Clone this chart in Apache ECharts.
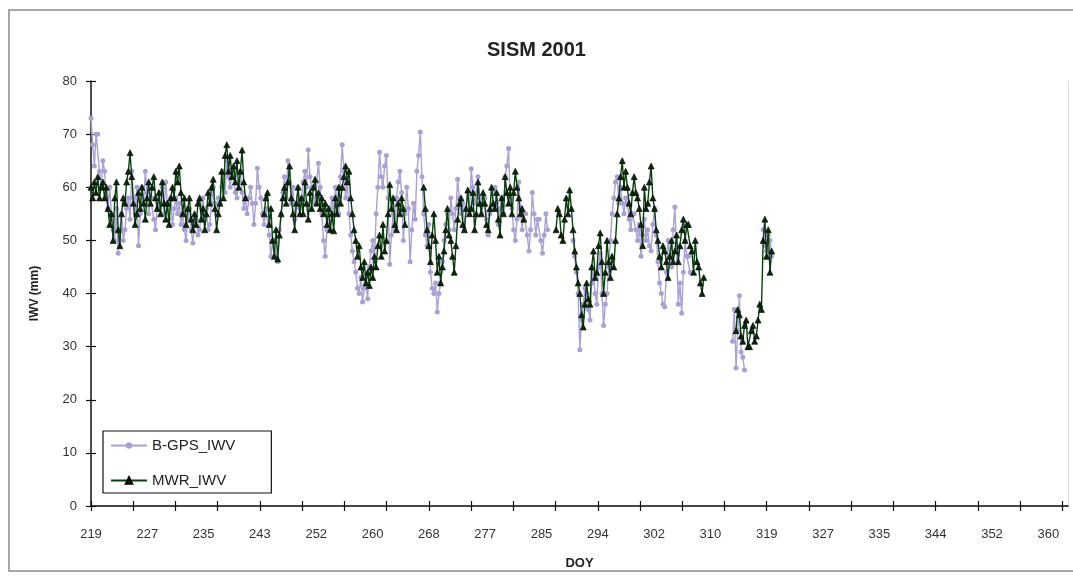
<!DOCTYPE html>
<html>
<head>
<meta charset="utf-8">
<script src="https://cdn.jsdelivr.net/npm/echarts@6/dist/echarts.min.js"></script>
<style>
  html, body { margin: 0; padding: 0; background: #fff; }
  #chart { width: 1073px; height: 576px; }
</style>
</head>
<body>
<div id="chart"></div>
<script>
// Category labels printed under the DOY axis
const doyLabels = ['219', '227', '235', '243', '252', '260', '268', '277', '285',
                   '294', '302', '310', '319', '327', '335', '344', '352', '360'];

// Sampling of both series: quarter-day steps starting at DOY 219 (one row per day)
const doyStart = 219;
const doyStep = 0.25;

// Ground-based GPS integrated water vapour (mm), null = no data
const gpsIwv = [
  73, 68, 64, 70,      // 219
  70, 63, 60, 65,
  63, 58, 56, 60,
  55, 52, 50, 56,
  47.6, 52, 55, 50,
  52, 56, 58, 54,      // 224
  63, 58, 55, 60,
  49, 55, 60, 57,
  63, 59, 55, 58,
  58, 54, 52, 56,
  56, 59, 60, 55,      // 229
  61, 57, 54, 58,
  53, 56, 58, 55,
  57, 53, 55, 52,
  50, 54, 56, 52,
  49.5, 53, 54, 51,    // 234
  52, 56, 58, 54,
  56, 52, 53, 57,
  60, 57, 55, 58,
  57, 60, 63, 59,
  65, 62, 60, 63,      // 239
  62, 59, 58, 61,
  63, 59, 56, 58,
  55, 58, 60, 57,
  53, 57, 63.6, 60,
  58, 55, 53, 56,      // 244
  56, 51, 47, 50,
  50, 47, 46, 52,
  55, 59, 62, 58,
  65, 61, 57, 60,
  54, 57, 60, 56,      // 249
  58, 61, 63, 60,
  67, 62, 60, 58,
  57, 61, 64.5, 60,
  55, 50, 47, 52,
  53, 56, 58, 55,      // 254
  60, 57, 55, 62,
  68, 63, 58, 61,
  55, 51, 48, 46,
  44, 41, 40, 43,
  38.4, 41, 42, 39,    // 259
  45, 48, 50, 46,
  55, 60, 66.6, 62,
  60, 64, 66, 58,
  45.5, 51, 55, 52,
  58, 61, 63, 59,      // 264
  50, 55, 60, 56,
  46, 52, 57, 54,
  63, 66, 70.4, 62,
  55, 51, 49, 53,
  44, 41, 40, 42,      // 269
  36.5, 40, 42, 46,
  50, 53, 55, 52,
  58, 55, 52, 56,
  61.5, 58, 55, 57,
  52, 56, 59, 55,      // 274
  63.5, 60, 57, 59,
  62, 58, 55, 57,
  58, 54, 51, 55,
  56, 59, 60, 57,
  53, 56, 58, 55,      // 279
  62, 64, 67.3, 58,
  56, 52, 50, 54,
  61, 56, 52, 55,
  55, 51, 48, 52,
  59, 55, 51, 54,      // 284
  54, 50, 47.6, 51,
  55, 52, null, null,
  null, null, null, null,
  null, null, null, null,
  null, null, null, null,   // 289
  50, 47, 44, 40,
  29.4, 35, 38, 41,
  40, 37, 35, 42,
  44, 40, 38, 45,
  47.6, 40, 34, 38,    // 294
  40, 45, 50, 55,
  58, 61, 62, 57,
  60, 57, 55, 58,
  57, 54, 52, 55,
  55, 52, 50, 53,      // 299
  47, 51, 54, 50,
  52, 49, 48, 53,
  56, 51, 46, 42,
  40, 38, 37.5, 44,
  50, 47, 45, 52,      // 304
  56.3, 48, 38, 42,
  36.3, 44, 50, 47,
  47, 44, null, null,
  null, null, null, null,
  null, null, null, null,   // 309
  null, null, null, null,
  null, null, null, null,
  null, null, null, null,
  null, null, 31, 37,
  26, 33, 39.6, 29,    // 314
  28, 25.6, null, null,
  null, null, null, null,
  null, null, null, null,
  52, 49, 48, 51,
  50, 47               // 319
];

// Microwave radiometer integrated water vapour (mm), null = no data
const mwrIwv = [
  60, 58, 61, 59,      // 219
  62, 58, 60, 61,
  58, 60, 56, 53,
  55, 50, 58, 61,
  52, 49, 55, 58,
  57, 61, 63, 66.5,    // 224
  62, 57, 53, 55,
  59, 56, 60, 57,
  54, 58, 61, 57,
  60, 62, 58, 56,
  59, 55, 61, 57,      // 229
  54, 57, 53, 58,
  60, 58, 63, 61,
  64, 59, 55, 58,
  53, 56, 58, 54,
  52, 55, 53, 57,      // 234
  58, 54, 56, 52,
  55, 59, 57, 60,
  61.5, 56, 52, 55,
  57, 63, 58, 66,
  68, 63, 66, 62,      // 239
  64, 61, 65, 60,
  63, 67, 61, 58,
  null, null, null, null,
  null, null, null, null,
  null, null, 55, 58,  // 244
  59, 53, 56, 50,
  47, 52, 46.5, 51,
  55, 58, 60, 57,
  61, 64, 58, 55,
  52, 57, 60, 55,      // 249
  58, 55, 61, 57,
  54, 59, 56, 60,
  61.5, 57, 59, 56,
  58, 55, 57, 53,
  56, 52, 55, 51.8,    // 254
  58, 55, 60, 57,
  60, 62, 64, 61,
  63, 58, 55, 52,
  50, 47, 49, 45,
  43, 46, 42, 44,      // 259
  41.5, 45, 43, 47,
  45, 49, 51, 47,
  53, 48, 50, 55,
  60.5, 56, 58, 53,
  52, 57, 55, 58,      // 264
  56, 53, null, null,
  null, null, null, null,
  null, null, null, null,
  60, 56, 52, 49,
  46, 51, 55, 50,      // 269
  44, 47, 42, 45,
  48, 52, 56, 51,
  50, 47, 44, 49,
  54, 57, 58, 53,
  52, 56, 59.5, 55,    // 274
  56, 59, 52, 55,
  61, 57, 55, 59,
  57, 53, 52, 56,
  60, 57, 56, 59,
  54, 51, 58, 55,      // 279
  62, 59, 57, 60,
  55, 59, 63, 60,
  58, 55, 56, 54,
  null, null, null, null,
  null, null, null, null,   // 284
  null, null, null, null,
  null, null, null, null,
  null, null, 52, 56,
  55, 51, 50, 54,
  58, 55, 59.5, 56,    // 289
  52, 48, 45, 42,
  40, 36, 33.7, 38,
  42, 39, 38, 45,
  48, 43, 44, 49,
  51.4, 46, 40, 44,    // 294
  50, 46, 43, 47,
  45, 50, 55, 58,
  62, 65, 60, 63,
  60, 57, 55, 59,
  62, 59, 58, 56,      // 299
  53, 49, 60, 56,
  57, 61, 64, 58,
  56, 52, 50, 47,
  45, 49, 48, 46,
  43, 47, 50, 46,      // 304
  48, 51, 46, 49,
  52, 54, 50, 53,
  53, 49, 48, 44,
  50, 46, 45, 42,
  40, 43, null, null,  // 309
  null, null, null, null,
  null, null, null, null,
  null, null, null, null,
  null, null, null, null,
  33, 37, 36, 32,      // 314
  31, 34, 35, 30,
  30, 33, 34, 31,
  32, 35, 38, 37,
  50, 54, 47, 52,
  44, 48               // 319
];

const toPairs = vals => vals.map((v, i) => [doyStart + i * doyStep, v]);

// Labelled positions are evenly spaced; tick marks fall every 3/4 of a label step
const xMin = 219;
const xMax = 362.9;
const labelSpan = (360 - 219) / (doyLabels.length - 1);
const labelPos = doyLabels.map((_, i) => xMin + i * labelSpan);
const tickPos = [];
for (let v = xMin; v <= xMax + 1e-6; v += labelSpan * 0.75) tickPos.push(v);

const font = "'Liberation Sans', Arial, sans-serif";
const axisColor = '#111';

const chart = echarts.init(document.getElementById('chart'), null, { renderer: 'canvas' });

chart.setOption({
  backgroundColor: '#fff',
  animation: false,
  title: {
    text: 'SISM 2001',
    left: 'center',
    top: 35,
    textStyle: { fontFamily: font, fontSize: 20, fontWeight: 'bold', color: '#222' }
  },
  legend: {
    orient: 'vertical',
    left: 103,
    top: 431,
    padding: [7, 36, 5, 7],
    itemGap: 20,
    itemWidth: 36,
    itemHeight: 8,
    backgroundColor: '#fff',
    borderColor: '#111',
    borderWidth: 1.2,
    borderRadius: 0,
    textStyle: { fontFamily: font, fontSize: 15, color: '#222' },
    data: ['B-GPS_IWV', 'MWR_IWV']
  },
  graphic: [{
    type: 'rect',
    silent: true,
    shape: { x: 9, y: 10, width: 1080, height: 561 },
    style: { fill: 'none', stroke: '#8a8a8a', lineWidth: 1.5 }
  }],
  grid: { left: 91, right: 5, top: 81, bottom: 70 },
  xAxis: [{
    type: 'value',
    position: 'bottom',
    min: xMin,
    max: xMax,
    name: 'DOY',
    nameLocation: 'middle',
    nameGap: 51,
    nameTextStyle: { fontFamily: font, fontSize: 13, fontWeight: 'bold', color: '#222' },
    axisLine: { lineStyle: { color: axisColor, width: 1.5 } },
    axisTick: { show: true, customValues: tickPos, length: 5, lineStyle: { color: axisColor, width: 1.2 } },
    axisLabel: {
      customValues: labelPos,
      margin: 22,
      fontFamily: font,
      fontSize: 13,
      color: '#333',
      formatter: v => doyLabels[Math.round((v - xMin) / labelSpan)]
    },
    splitLine: { show: false }
  }, {
    type: 'value',
    position: 'bottom',
    min: xMin,
    max: xMax,
    axisLine: { show: false },
    axisTick: { show: true, inside: true, customValues: tickPos, length: 5, lineStyle: { color: axisColor, width: 1.2 } },
    axisLabel: { show: false },
    splitLine: { show: false }
  }, {
    type: 'value',
    position: 'top',
    min: xMin,
    max: xMax,
    axisLine: { show: true, lineStyle: { color: '#444', width: 1.5 } },
    axisTick: { show: false },
    axisLabel: { show: false },
    splitLine: { show: false }
  }],
  yAxis: [{
    type: 'value',
    position: 'left',
    min: 0,
    max: 80,
    interval: 10,
    name: 'IWV (mm)',
    nameLocation: 'middle',
    nameGap: 50,
    nameRotate: 90,
    nameTextStyle: { fontFamily: font, fontSize: 12, fontWeight: 'bold', color: '#222' },
    axisLine: { show: true, lineStyle: { color: axisColor, width: 1.5 } },
    axisTick: { show: true, length: 5, lineStyle: { color: axisColor, width: 1.2 } },
    axisLabel: { margin: 14, fontFamily: font, fontSize: 13, color: '#333' },
    splitLine: { show: false }
  }, {
    type: 'value',
    position: 'left',
    min: 0,
    max: 80,
    interval: 10,
    axisLine: { show: false },
    axisTick: { show: true, inside: true, length: 5, lineStyle: { color: axisColor, width: 1.2 } },
    axisLabel: { show: false },
    splitLine: { show: false }
  }, {
    type: 'value',
    position: 'right',
    min: 0,
    max: 80,
    axisLine: { show: true, lineStyle: { color: '#dcdcdc', width: 1 } },
    axisTick: { show: false },
    axisLabel: { show: false },
    splitLine: { show: false }
  }],
  series: [{
    name: 'B-GPS_IWV',
    type: 'line',
    xAxisIndex: 0,
    yAxisIndex: 0,
    data: toPairs(gpsIwv),
    connectNulls: false,
    symbol: 'circle',
    symbolSize: 5,
    showAllSymbol: true,
    lineStyle: { color: '#a9a1d4', width: 1.4 },
    itemStyle: { color: '#a9a1d4' },
    z: 2
  }, {
    name: 'MWR_IWV',
    type: 'line',
    xAxisIndex: 0,
    yAxisIndex: 0,
    data: toPairs(mwrIwv),
    connectNulls: false,
    symbol: 'triangle',
    symbolSize: 6,
    showAllSymbol: true,
    lineStyle: { color: '#0a400f', width: 1.4 },
    itemStyle: { color: '#082a08', borderColor: '#000', borderWidth: 0.6 },
    z: 3
  }]
});
</script>
</body>
</html>
